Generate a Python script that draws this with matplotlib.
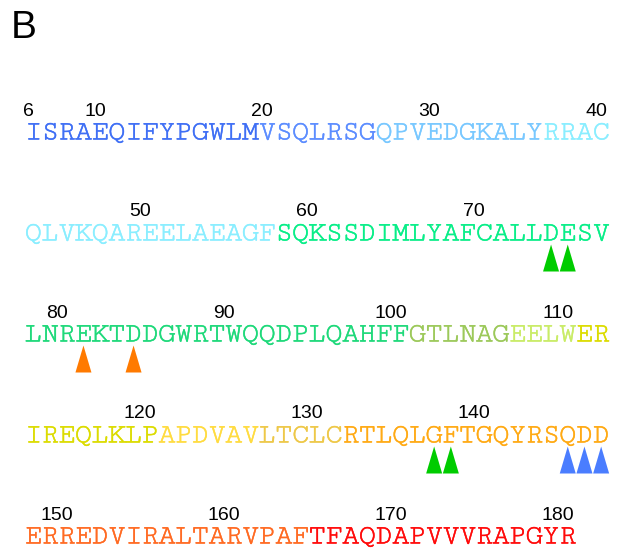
import matplotlib
matplotlib.use("Agg")
import matplotlib.pyplot as plt
import matplotlib.patheffects as pe

# ---------------- data ----------------
sequence = ("ISRAEQIFYPGWLMVSQLRSGQPVEDGKALYRRAC"
            "QLVKQAREELAEAGFSQKSSDIMLYAFCALLDESV"
            "LNREKTDDGWRTWQQDPLQAHFFGTLNAGEELWER"
            "IREQLKLPAPDVAVLTCLCRTLQLGFTGQYRSQDD"
            "ERREDVIRALTARVPAFTFAQDAPVVVRAPGYR")
first_residue = 6
residues_per_row = 35

# colour segments: (first residue, last residue, colour)
seg_start = [6, 20, 27, 37, 56, 76, 99, 105, 109, 119, 125, 130, 146, 163]
seg_end = [19, 26, 36, 55, 75, 98, 104, 108, 118, 124, 129, 145, 162, 178]
seg_color = ["#3f6ff5", "#5c8dff", "#78c8ff", "#8aeeff", "#08ee88", "#1ed97a",
             "#9cc95a", "#c9ec66", "#dcdc00", "#ffdc40", "#eec848", "#ffaa14",
             "#ff6a22", "#ff0a0a"]

number_labels = [6, 10, 20, 30, 40, 50, 60, 70, 80, 90, 100, 110,
                 120, 130, 140, 150, 160, 170, 180]

green_sites = [72, 73, 135, 136]
orange_sites = [79, 82]
blue_sites = [143, 144, 145]
marker_colors = {"green": "#00cc00", "orange": "#ff7a00", "blue": "#4a7dff"}

# ---------------- layout ----------------
W, H = 627, 551
x0 = 25.0          # left edge of sequence block (px)
cw = 16.7          # character width (px)
base0 = 139.5      # baseline of first row (px)
row_gap = 101.0    # distance between rows (px)
seq_fonts = ["Cutive Mono", "Courier Prime", "Liberation Mono"]

fig = plt.figure(figsize=(W / 100, H / 100), dpi=100)
ax = fig.add_axes([0, 0, 1, 1])
ax.set_xlim(0, W)
ax.set_ylim(H, 0)
ax.axis("off")

def color_of(res):
    for s, e, c in zip(seg_start, seg_end, seg_color):
        if s <= res <= e:
            return c
    return "black"

def pos_of(res):
    idx = res - first_residue
    row = idx // residues_per_row
    col = idx % residues_per_row
    return row, col

# sequence letters
for i, aa in enumerate(sequence):
    res = first_residue + i
    row, col = pos_of(res)
    c = color_of(res)
    ax.text(x0 + (col + 0.5) * cw, base0 + row * row_gap, aa,
            family=seq_fonts, fontsize=20.5, color=c,
            ha="center", va="baseline",
            path_effects=[pe.withStroke(linewidth=0.3, foreground=c)])

# numbering
for n in number_labels:
    idx = n - first_residue
    row = idx // residues_per_row
    col = idx - row * residues_per_row
    shift = -0.3 if row == 0 else -2.6
    ax.text(x0 + (col + 0.5 + shift) * cw, base0 + row * row_gap - 24, str(n),
            family="Liberation Sans", fontsize=14, color="black",
            ha="center", va="baseline")

# triangle markers
for sites, key in [(green_sites, "green"), (orange_sites, "orange"), (blue_sites, "blue")]:
    for res in sites:
        row, col = pos_of(res)
        xc = x0 + (col + 0.5) * cw
        yb = base0 + row * row_gap
        ax.fill([xc - 8, xc + 8, xc], [yb + 31, yb + 31, yb + 4],
                color=marker_colors[key], lw=0)

# panel letter
ax.text(11, 38, "B", family="Liberation Sans", fontsize=28, color="black",
        ha="left", va="baseline")

fig.savefig("out.png", dpi=100)
